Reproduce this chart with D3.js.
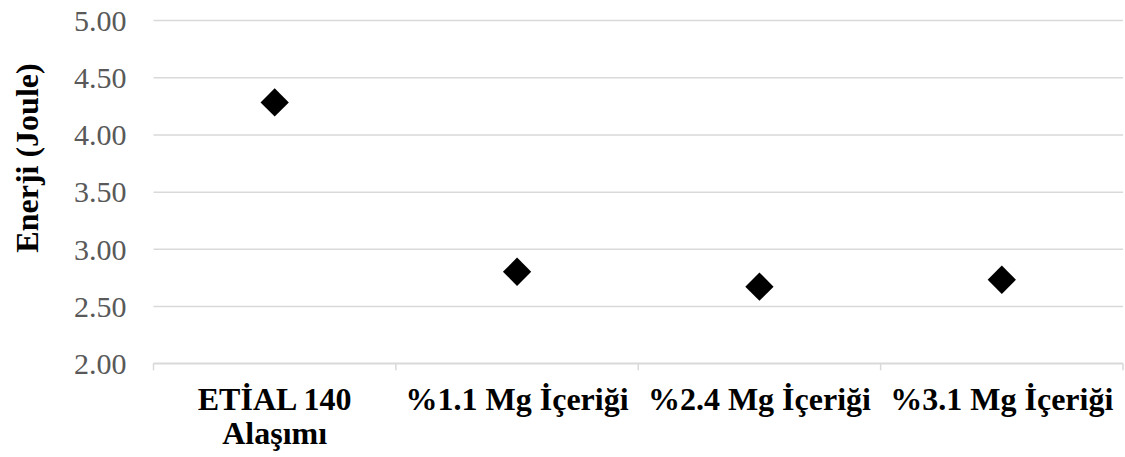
<!DOCTYPE html>
<html>
<head>
<meta charset="utf-8">
<script src="https://cdn.jsdelivr.net/npm/d3@7"></script>
<style>
  html, body { margin: 0; padding: 0; background: #fff; }
  svg { display: block; }
</style>
</head>
<body>
<svg id="chart" width="1125" height="457" font-family="Liberation Serif"></svg>
<script>
// Energy values per alloy composition
const categories = [["ETİAL 140", "Alaşımı"], ["%1.1 Mg İçeriği"], ["%2.4 Mg İçeriği"], ["%3.1 Mg İçeriği"]];
const energyValues = [4.28, 2.80, 2.67, 2.73];
const yTicks = [2.0, 2.5, 3.0, 3.5, 4.0, 4.5, 5.0];
const yTitle = "Enerji (Joule)";

const FONT = "Liberation Serif";

const svg = d3.select("#chart");
const margin = { left: 153.5, right: 2, top: 20, bottom: 93.7 };
const W = 1125, H = 457;
const plotW = W - margin.left - margin.right;
const plotH = H - margin.top - margin.bottom;

const keys = categories.map((c, i) => i);
const x = d3.scaleBand().domain(keys).range([0, plotW]);
const y = d3.scaleLinear().domain([2, 5]).range([plotH, 0]);

const g = svg.append("g").attr("transform", `translate(${margin.left},${margin.top})`);

const gridColor = "#d9d9d9";

// Horizontal gridlines + tick labels
const yAxis = g.append("g")
  .call(d3.axisLeft(y).tickValues(yTicks).tickSize(-plotW).tickFormat(d3.format(".2f")))
  .attr("font-family", FONT)
  .attr("font-size", 30);
yAxis.select(".domain").remove();
yAxis.selectAll(".tick line").attr("stroke", gridColor).attr("stroke-width", 1.5);
yAxis.selectAll(".tick text")
  .attr("x", -27)
  .attr("dy", "0.34em")
  .attr("fill", "#595959")
  .attr("font-family", FONT)
  .attr("font-size", 30);

// Category axis along the bottom with separator ticks
const boundaries = keys.map(k => x(k)).concat([plotW]);
const xg = g.append("g").attr("transform", `translate(0,${plotH})`);
xg.append("line").attr("x1", 0).attr("x2", plotW).attr("y1", 0).attr("y2", 0)
  .attr("stroke", gridColor).attr("stroke-width", 1.5);
xg.selectAll("line.sep").data(boundaries).join("line")
  .attr("class", "sep")
  .attr("x1", d => d).attr("x2", d => d)
  .attr("y1", 0).attr("y2", 7)
  .attr("stroke", gridColor).attr("stroke-width", 1.5);

xg.selectAll("text.cat").data(keys).join("text")
  .attr("class", "cat")
  .attr("x", d => x(d) + x.bandwidth() / 2)
  .attr("y", 47)
  .attr("text-anchor", "middle")
  .attr("font-family", FONT)
  .attr("font-weight", "bold")
  .attr("font-size", 32)
  .attr("fill", "#000")
  .each(function (d) {
    const t = d3.select(this);
    categories[d].forEach((line, i) => {
      t.append("tspan")
        .attr("x", x(d) + x.bandwidth() / 2)
        .attr("dy", i === 0 ? 0 : 34)
        .text(line);
    });
  });

// Diamond markers
const diamond = d3.symbol().type(d3.symbolSquare).size(400);
g.selectAll("path.pt").data(energyValues).join("path")
  .attr("class", "pt")
  .attr("d", diamond)
  .attr("transform", (d, i) => `translate(${x(i) + x.bandwidth() / 2},${y(d)}) rotate(45)`)
  .attr("fill", "#000");

// Y axis title
svg.append("text")
  .attr("transform", `translate(38,158) rotate(-90)`)
  .attr("text-anchor", "middle")
  .attr("font-family", FONT)
  .attr("font-weight", "bold")
  .attr("font-size", 32)
  .attr("fill", "#000")
  .text(yTitle);
</script>
</body>
</html>
